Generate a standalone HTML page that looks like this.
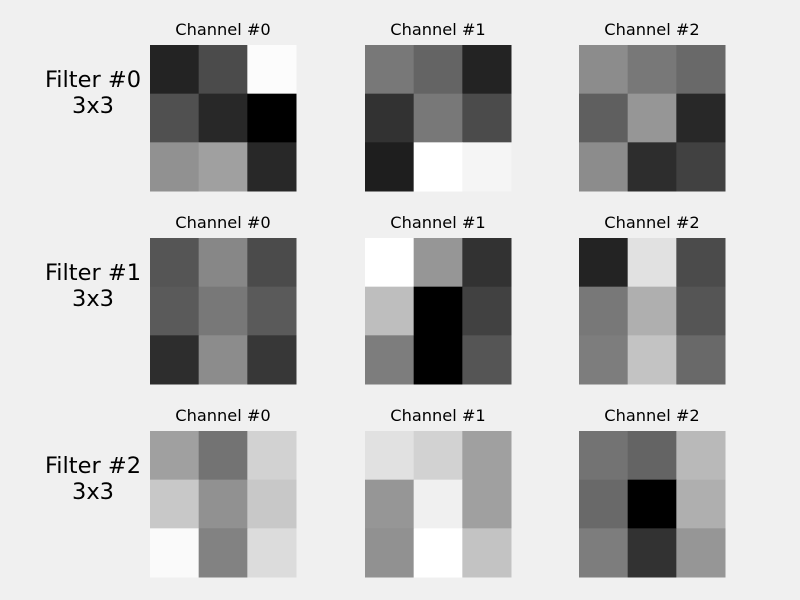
<!DOCTYPE html>
<html><head><meta charset="utf-8"><style>
html,body{margin:0;padding:0;background:#f0f0f0;}
svg{display:block;font-family:"DejaVu Sans","Liberation Sans",sans-serif;}
</style></head><body>
<svg id="chart" width="800" height="600"></svg>
<script>
const filters = ["Filter #0","Filter #1","Filter #2"];
const channels = ["Channel #0","Channel #1","Channel #2"];
const kernelLabel = "3x3";
// grayscale intensities (0-255) per filter, per channel, row-major 3x3
const f0 = [
  [35,75,252, 80,40,0, 145,160,40],
  [120,100,35, 50,120,75, 30,255,245],
  [140,120,105, 95,150,40, 140,45,65]
];
const f1 = [
  [85,135,75, 90,120,90, 45,140,55],
  [255,150,50, 190,0,65, 125,0,85],
  [35,225,75, 120,175,85, 125,195,105]
];
const f2 = [
  [160,115,210, 200,145,200, 250,130,220],
  [225,210,160, 150,240,160, 145,255,195],
  [115,100,185, 105,0,175, 125,50,150]
];
const values = [f0,f1,f2];

const NS="http://www.w3.org/2000/svg";
const svg=document.getElementById('chart');
const colX=[150,365,579], rowY=[45,238,431], panel=146, cell=panel/3;
function mk(t,a){const e=document.createElementNS(NS,t);for(const k in a)e.setAttribute(k,a[k]);svg.appendChild(e);return e;}
function gray(v){return `rgb(${v},${v},${v})`;}
filters.forEach((fname,fi)=>{
  const y0=rowY[fi];
  const l1=mk('text',{x:93,y:y0+42,'text-anchor':'middle','font-size':22.5,fill:'#000'});
  l1.textContent=fname;
  
  
  const l2=mk('text',{x:93,y:y0+68,'text-anchor':'middle','font-size':22.5,fill:'#000'});
  l2.textContent=kernelLabel;
  
  
  channels.forEach((cname,ci)=>{
    const x0=colX[ci];
    const t=mk('text',{x:x0+panel/2,y:y0-10,'text-anchor':'middle','font-size':16.2,fill:'#000'});
    t.textContent=cname;
    
    
    values[fi][ci].forEach((v,k)=>{
      const r=Math.floor(k/3), c=k%3;
      const rc=mk('rect',{x:x0+c*cell,y:y0+r*cell,width:cell+0.5,height:cell+0.5,fill:gray(v)});
      
      
    });
  });
});
</script>
</body></html>
